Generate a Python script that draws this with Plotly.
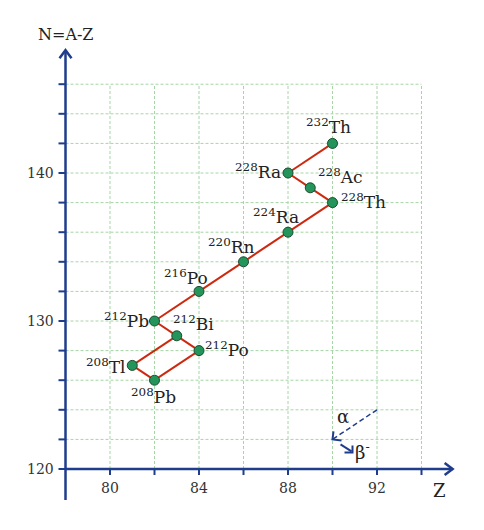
import plotly.graph_objects as go

# ---- data ----
names = ["Th232", "Ra228", "Ac228", "Th228", "Ra224", "Rn220", "Po216",
         "Pb212", "Bi212", "Po212", "Tl208", "Pb208"]
mass = [232, 228, 228, 228, 224, 220, 216, 212, 212, 212, 208, 208]
symbol = ["Th", "Ra", "Ac", "Th", "Ra", "Rn", "Po", "Pb", "Bi", "Po", "Tl", "Pb"]
Z = [90, 88, 89, 90, 88, 86, 84, 82, 83, 84, 81, 82]
N = [142, 140, 139, 138, 136, 134, 132, 130, 129, 128, 127, 126]
decays = [("Th232", "Ra228"), ("Ra228", "Ac228"), ("Ac228", "Th228"),
          ("Th228", "Ra224"), ("Ra224", "Rn220"), ("Rn220", "Po216"),
          ("Po216", "Pb212"), ("Pb212", "Bi212"), ("Bi212", "Po212"),
          ("Bi212", "Tl208"), ("Po212", "Pb208"), ("Tl208", "Pb208")]
x_ticks = [80, 82, 84, 86, 88, 90, 92, 94]
x_labels = {80: "80", 84: "84", 88: "88", 92: "92"}
y_ticks = [122, 124, 126, 128, 130, 132, 134, 136, 138, 140, 142, 144, 146]
y_labels = {120: "120", 130: "130", 140: "140"}

AXIS = "#1f3d8c"
GRID = "#a6d6a6"
LINE = "#cc2a10"
PT = "#23955a"
FONT = "DejaVu Serif"

X0, Y0 = 78, 120
# page body has an 8px margin: compensate so window pixels line up
XR = [80 - 102 / 22.25, 80 + 382 / 22.25]
YR = [120 - 69 / 14.8, 120 + 461 / 14.8]
sx = (XR[1] - XR[0]) / 484.0   # data per px
sy = (YR[1] - YR[0]) / 530.0

fig = go.Figure()
shapes = []
annotations = []

# grid
for x in x_ticks:
    shapes.append(dict(type="line", x0=x, x1=x, y0=Y0, y1=146, xref="x", yref="y",
                       line=dict(color=GRID, width=1, dash="3px,2px"), layer="below"))
for y in y_ticks:
    shapes.append(dict(type="line", x0=X0, x1=94, y0=y, y1=y, xref="x", yref="y",
                       line=dict(color=GRID, width=1, dash="3px,2px"), layer="below"))

# axes lines
shapes.append(dict(type="line", x0=X0, x1=X0, y0=Y0 - 31 * sy, y1=148.3, xref="x", yref="y",
                   line=dict(color=AXIS, width=2.5)))
shapes.append(dict(type="line", x0=X0, x1=95.4, y0=Y0, y1=Y0, xref="x", yref="y",
                   line=dict(color=AXIS, width=2.5)))
# arrow chevrons
tip_y = 148.3
shapes.append(dict(type="path", xref="x", yref="y",
                   path=f"M {X0-6*sx},{tip_y-8*sy} L {X0},{tip_y} L {X0+6*sx},{tip_y-8*sy}",
                   line=dict(color=AXIS, width=2.5)))
tip_x = 95.4
shapes.append(dict(type="path", xref="x", yref="y",
                   path=f"M {tip_x-8*sx},{Y0+6*sy} L {tip_x},{Y0} L {tip_x-8*sx},{Y0-6*sy}",
                   line=dict(color=AXIS, width=2.5)))

# ticks
for y in y_ticks + [120]:
    shapes.append(dict(type="line", xref="x", yref="y", x0=X0 - 7 * sx, x1=X0, y0=y, y1=y,
                       line=dict(color=AXIS, width=2)))
for x in x_ticks:
    shapes.append(dict(type="line", xref="x", yref="y", x0=x, x1=x, y0=Y0 - 6 * sy, y1=Y0 + 1 * sy,
                       line=dict(color=AXIS, width=2)))

for y, t in y_labels.items():
    annotations.append(dict(x=X0 - 10 * sx, y=y, text=t, showarrow=False, xanchor="right",
                            yanchor="middle", font=dict(family=FONT, size=14, color="#333")))
for x, t in x_labels.items():
    annotations.append(dict(x=x, y=Y0 - 9 * sy, text=t, showarrow=False, xanchor="center",
                            yanchor="top", font=dict(family=FONT, size=14, color="#333")))

annotations.append(dict(x=X0, y=tip_y + 16 * sy, text="N=A-Z", showarrow=False, xanchor="center",
                        yanchor="middle", font=dict(family=FONT, size=16, color="#222")))
annotations.append(dict(x=94.83, y=Y0 - 9 * sy, text="Z", showarrow=False, xanchor="center",
                        yanchor="top", font=dict(family=FONT, size=18, color="#222")))

# decay lines
idx = {n: i for i, n in enumerate(names)}
for a, b in decays:
    fig.add_trace(go.Scatter(x=[Z[idx[a]], Z[idx[b]]], y=[N[idx[a]], N[idx[b]]], mode="lines",
                             line=dict(color=LINE, width=2), hoverinfo="skip", showlegend=False))
fig.add_trace(go.Scatter(x=Z, y=N, mode="markers",
                         marker=dict(color=PT, size=10, line=dict(color="#1d4a30", width=1)),
                         showlegend=False))

# nuclide labels: (dx px, dy px, xanchor, yanchor)
pos = {
    "Th232": (-4, 4, "center", "bottom"),
    "Ra228": (-5, 2, "right", "middle"),
    "Ac228": (6, -1, "left", "bottom"),
    "Th228": (6, 2, "left", "middle"),
    "Ra224": (-12, 3, "center", "bottom"),
    "Rn220": (-12, 3, "center", "bottom"),
    "Po216": (-13, 1, "center", "bottom"),
    "Pb212": (-4, 1, "right", "middle"),
    "Bi212": (-6, 0, "left", "bottom"),
    "Po212": (4, 2, "left", "middle"),
    "Tl208": (-5, -1, "right", "middle"),
    "Pb208": (-1, -3, "center", "top"),
}
for i, n in enumerate(names):
    dx, dy, xa, ya = pos[n]
    annotations.append(dict(x=Z[i] + dx * sx, y=N[i] + dy * sy,
                            text=f"<sup>{mass[i]}</sup>{symbol[i]}", showarrow=False,
                            xanchor=xa, yanchor=ya,
                            font=dict(family=FONT, size=17, color="#222")))

# alpha / beta legend
shapes.append(dict(type="line", xref="x", yref="y", x0=92, y0=124, x1=90, y1=122,
                   line=dict(color=AXIS, width=1.5, dash="5px,3px")))
shapes.append(dict(type="path", xref="x", yref="y",
                   path=f"M {90+1*sx},{122+8*sy} L {90},{122} L {90+9*sx},{122-1*sy}",
                   line=dict(color=AXIS, width=2)))
shapes.append(dict(type="line", xref="x", yref="y", x0=90 + 8 * sx, y0=122 - 5 * sy,
                   x1=90 + 19 * sx, y1=122 - 12 * sy, line=dict(color=AXIS, width=2)))
shapes.append(dict(type="path", xref="x", yref="y",
                   path=f"M {90+12*sx},{122-13*sy} L {90+20*sx},{122-13*sy} L {90+20*sx},{122-6*sy}",
                   line=dict(color=AXIS, width=2)))
annotations.append(dict(x=90 + 10 * sx, y=122 + 23 * sy, text="α", showarrow=False,
                        xanchor="center", yanchor="middle",
                        font=dict(family=FONT, size=18, color="#222")))
annotations.append(dict(x=90 + 20 * sx, y=122 - 12 * sy, text="β<sup>-</sup>", showarrow=False,
                        xanchor="left", yanchor="middle",
                        font=dict(family=FONT, size=18, color="#222")))

fig.update_layout(width=484, height=530, margin=dict(l=0, r=0, t=0, b=0),
                  paper_bgcolor="white", plot_bgcolor="white",
                  xaxis=dict(range=XR, visible=False, fixedrange=True),
                  yaxis=dict(range=YR, visible=False, fixedrange=True),
                  shapes=shapes, annotations=annotations)
fig.write_html("out.html")
